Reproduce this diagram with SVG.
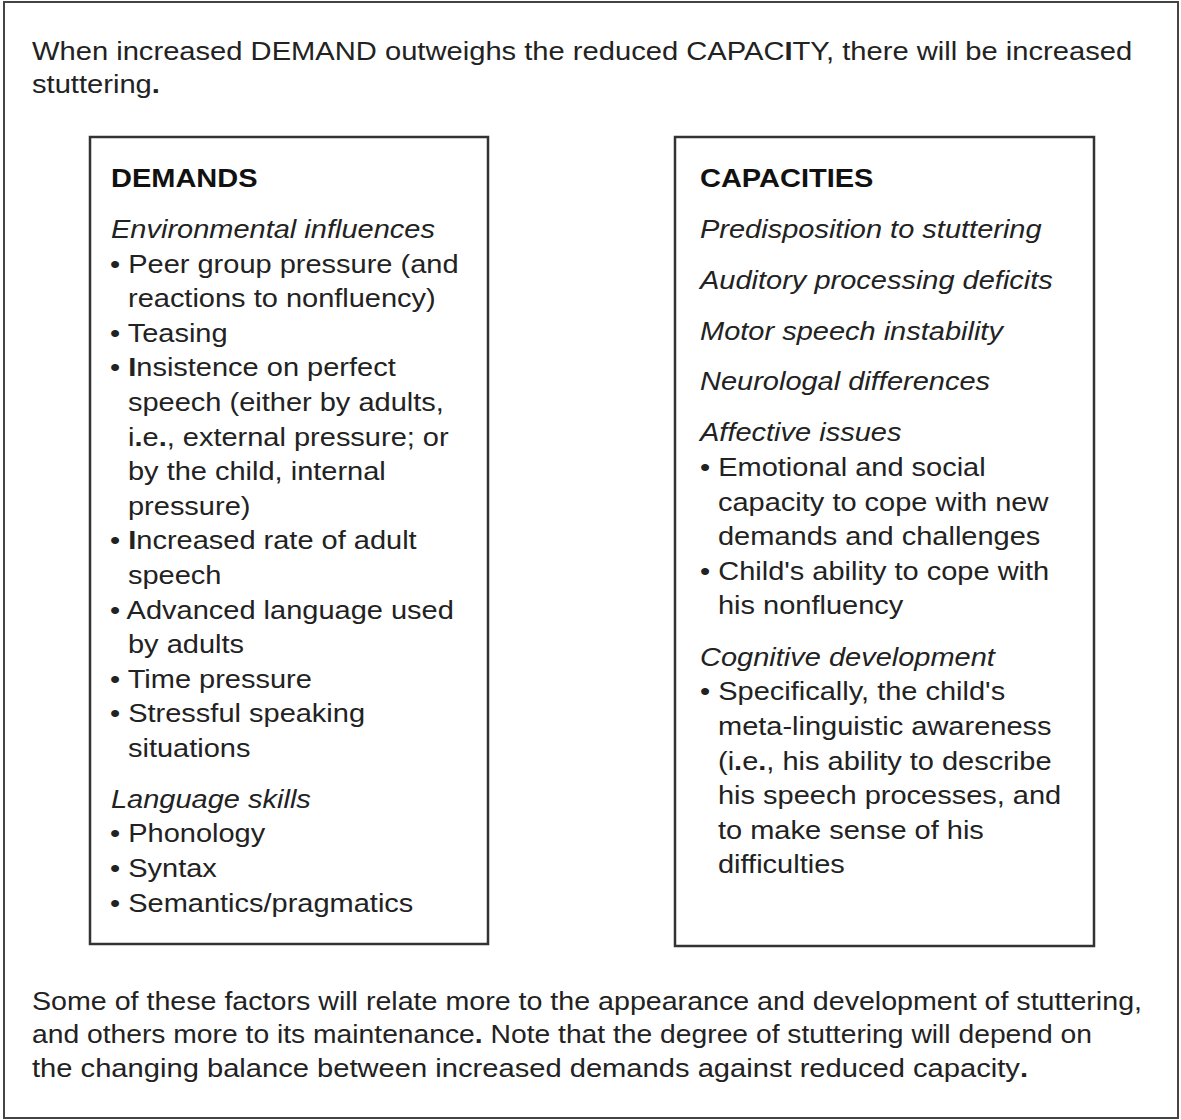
<svg xmlns="http://www.w3.org/2000/svg" width="1181" height="1120" viewBox="0 0 1181 1120">
<style>
text{font-family:"Liberation Sans",Arial,Helvetica,sans-serif;font-size:25px;fill:#222}
.h{font-weight:bold;fill:#111}
.i{font-style:italic}
.b{font-weight:bold}
.box{fill:#fff;stroke:#333;stroke-width:2.5}
.frame{fill:#fff;stroke:#444;stroke-width:2}
</style>
<rect x="0" y="0" width="1181" height="1120" fill="#fff"/>
<g id="frame"><rect class="frame" x="4" y="2" width="1174" height="1116"/></g>
<g id="intro-text" transform="scale(1.166,1)">
<text x="27.44" y="60">When increased DEMAND outweighs the reduced CAPAC<tspan class="b">I</tspan>TY, there will be increased</text>
<text x="27.44" y="93">stuttering<tspan class="b">.</tspan></text>
</g>
<g id="demands">
<rect class="box" x="90" y="137" width="398" height="807"/>
<g transform="scale(1.16,1)">
<text class="h" x="95.69" y="187.5">DEMANDS</text>
<text class="i" x="95.69" y="238">Environmental influences</text>
<text x="94.83" y="272.7">• Peer group pressure (and</text>
<text x="110.34" y="307.3">reactions to nonfluency)</text>
<text x="94.83" y="341.9">• Teasing</text>
<text x="94.83" y="376.5">• <tspan class="b">I</tspan>nsistence on perfect</text>
<text x="110.34" y="411.1">speech (either by adults,</text>
<text x="110.34" y="445.7">i<tspan class="b">.</tspan>e<tspan class="b">.</tspan>, external pressure; or</text>
<text x="110.34" y="480.3">by the child, internal</text>
<text x="110.34" y="514.9">pressure)</text>
<text x="94.83" y="549.5">• <tspan class="b">I</tspan>ncreased rate of adult</text>
<text x="110.34" y="584.1">speech</text>
<text x="94.83" y="618.7">• Advanced language used</text>
<text x="110.34" y="653.3">by adults</text>
<text x="94.83" y="687.9">• Time pressure</text>
<text x="94.83" y="722.5">• Stressful speaking</text>
<text x="110.34" y="757.1">situations</text>
<text class="i" x="95.69" y="808">Language skills</text>
<text x="94.83" y="842.5">• Phonology</text>
<text x="94.83" y="877">• Syntax</text>
<text x="94.83" y="911.6">• Semantics/pragmatics</text>
</g>
</g>
<g id="capacities">
<rect class="box" x="675" y="137" width="419" height="809"/>
<g transform="scale(1.16,1)">
<text class="h" x="603.45" y="187.5">CAPACITIES</text>
<text class="i" x="603.45" y="238">Predisposition to stuttering</text>
<text class="i" x="603.45" y="289">Auditory processing deficits</text>
<text class="i" x="603.45" y="340">Motor speech instability</text>
<text class="i" x="603.45" y="390.5">Neurologal differences</text>
<text class="i" x="603.45" y="441">Affective issues</text>
<text x="603.45" y="476">• Emotional and social</text>
<text x="618.97" y="510.6">capacity to cope with new</text>
<text x="618.97" y="545.2">demands and challenges</text>
<text x="603.45" y="579.8">• Child's ability to cope with</text>
<text x="618.97" y="614.4">his nonfluency</text>
<text class="i" x="603.45" y="666">Cognitive development</text>
<text x="603.45" y="700.5">• Specifically, the child's</text>
<text x="618.97" y="735.1">meta-linguistic awareness</text>
<text x="618.97" y="769.7">(i<tspan class="b">.</tspan>e<tspan class="b">.</tspan>, his ability to describe</text>
<text x="618.97" y="804.3">his speech processes, and</text>
<text x="618.97" y="838.9">to make sense of his</text>
<text x="618.97" y="873.5">difficulties</text>
</g>
</g>
<g id="connectors"></g>
<g id="note-text">
<text x="32" y="1010" textLength="1110" lengthAdjust="spacingAndGlyphs">Some of these factors will relate more to the appearance and development of stuttering,</text>
<text x="32" y="1043.3" textLength="1060" lengthAdjust="spacingAndGlyphs">and others more to its maintenance<tspan class="b">.</tspan> Note that the degree of stuttering will depend on</text>
<text x="32" y="1076.7" textLength="996" lengthAdjust="spacingAndGlyphs">the changing balance between increased demands against reduced capacity<tspan class="b">.</tspan></text>
</g>
</svg>
